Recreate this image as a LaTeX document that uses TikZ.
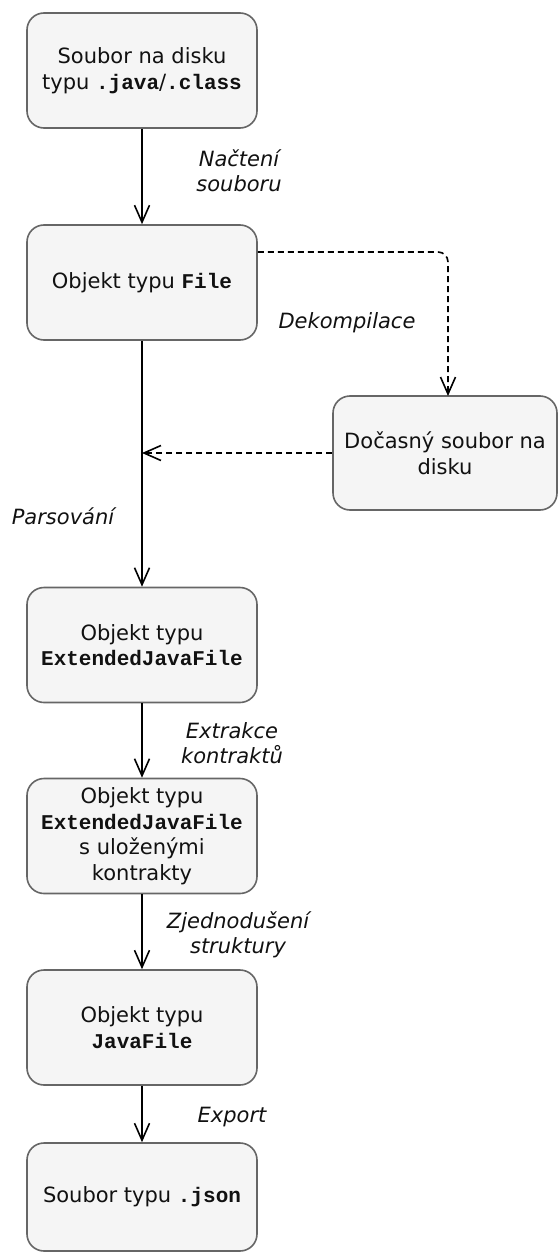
\documentclass[tikz,border=0pt]{standalone}
\usepackage{fontspec}
\setmainfont{DejaVu Sans}
\newfontfamily\codefont{Liberation Mono}
\usetikzlibrary{arrows.meta}
\newcommand{\code}[1]{{\codefont\bfseries #1}}
\definecolor{boxfill}{HTML}{F5F5F5}
\definecolor{boxline}{HTML}{666666}
\definecolor{ink}{HTML}{111111}
\tikzset{
  x=1pt, y=-1pt,
  stage/.style={draw=boxline, fill=boxfill, line width=1.6pt, rounded corners=17pt,
    minimum width=230pt, minimum height=115pt, align=center, text=ink,
    font=\fontsize{21}{25.5}\selectfont, inner sep=0pt},
  flow/.style={line width=1.6pt, draw=black, -{Straight Barb[length=17pt,width=15pt,line width=1.6pt]}},
  sideflow/.style={flow, dash pattern=on 6pt off 4pt},
  steplabel/.style={font=\fontsize{21}{25.5}\selectfont\itshape, text=ink, align=center, inner sep=0pt}
}
\begin{document}
\begin{tikzpicture}
\useasboundingbox (0,0) rectangle (557,1252);
% processing stages
\node[stage] (src)  at (142,70.5)  {Soubor na disku\\typu \code{.java}/\code{.class}};
\node[stage] (file) at (142,282.5) {Objekt typu \code{File}};
\node[stage, minimum width=224pt, minimum height=114pt] (tmp) at (445,453) {Dočasný soubor na\\disku};
\node[stage] (ext)  at (142,645)   {Objekt typu\\\code{ExtendedJavaFile}};
\node[stage] (extc) at (142,836)   {Objekt typu\\\code{ExtendedJavaFile}\\s uloženými\\kontrakty};
\node[stage] (jf)   at (142,1027.5){Objekt typu\\\code{JavaFile}};
\node[stage, minimum height=108pt] (json) at (142,1197) {Soubor typu \code{.json}};

% main flow
\draw[flow] (src) -- (file);
\draw[flow] (file) -- (ext);
\draw[flow] (ext) -- (extc);
\draw[flow] (extc) -- (jf);
\draw[flow] (jf) -- (json);

% decompilation detour
\coordinate (join) at (142,453);
\draw[sideflow, rounded corners=10pt] (file.east |- 0,252) -- (448,252) -- (448,396);
\draw[sideflow] (tmp.west) -- (join);

% step labels
\node[steplabel] (l1) at (239,171) {Načtení\\souboru};
\node[steplabel] (l2) at (347,323) {Dekompilace};
\node[steplabel] (l3) at (63,516)  {Parsování};
\node[steplabel] (l4) at (232,743) {Extrakce\\kontraktů};
\node[steplabel] (l5) at (238,935) {Zjednodušení\\struktury};
\node[steplabel] (l6) at (232,1117){Export};
\end{tikzpicture}
\end{document}
